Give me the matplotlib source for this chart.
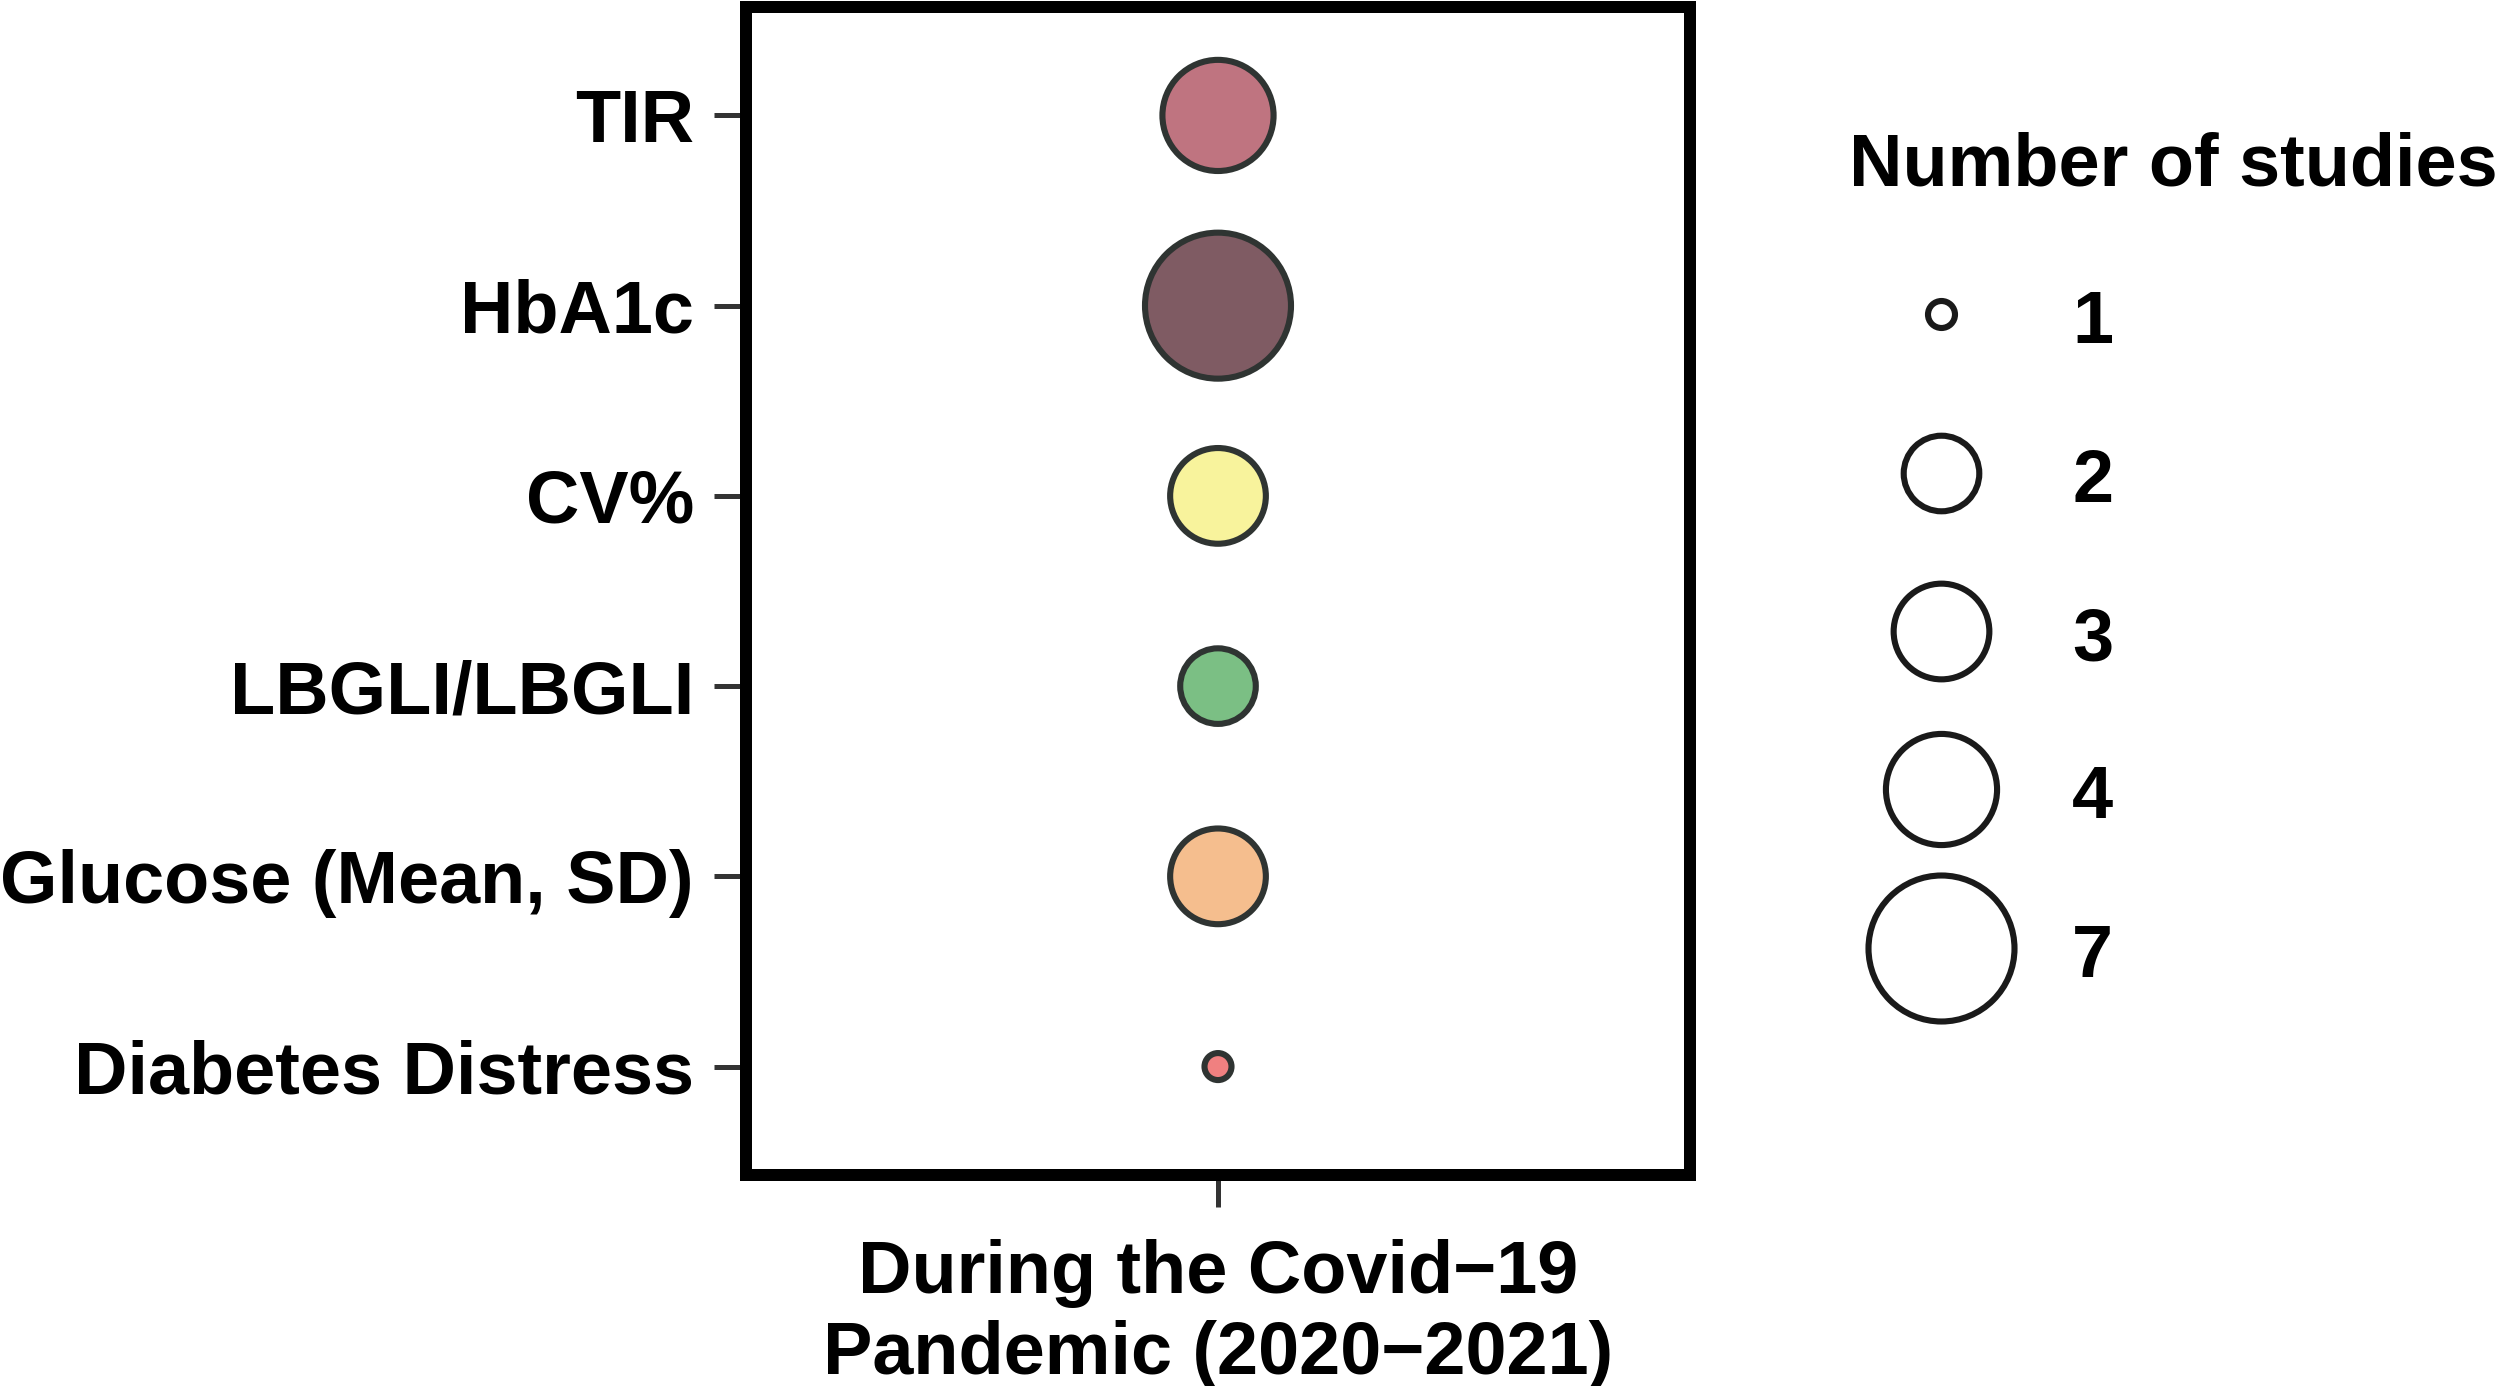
import matplotlib
matplotlib.use("Agg")
import matplotlib.pyplot as plt
from matplotlib.lines import Line2D
import numpy as np

# ---- data ----
outcomes = ["Diabetes Distress", "Glucose (Mean, SD)", "LBGLI/LBGLI", "CV%", "HbA1c", "TIR"]
n_studies = [1, 3, 2, 3, 7, 4]
fill_colors = ["#F08080", "#F5BE8E", "#7BBF84", "#F8F39C", "#7F5B63", "#BF7480"]
period = ["During the Covid\u221219\nPandemic (2020\u22122021)"]
legend_levels = [1, 2, 3, 4, 7]

# ---- style ----
DPI = 200
FS = 26.6
plt.rcParams["font.family"] = ["Liberation Sans", "DejaVu Sans"]
plt.rcParams["font.weight"] = "bold"
EDGE = "#2F3432"
EDGE_LW = 2.2

def px2pt(px):
    return px * 72.0 / DPI

D_MIN, D_MAX = px2pt(27), px2pt(146)
N_MIN, N_MAX = 1, 7

def diam(n):
    n = np.asarray(n, dtype=float)
    return D_MIN + (D_MAX - D_MIN) * np.sqrt((n - N_MIN) / (N_MAX - N_MIN))

fig = plt.figure(figsize=(2500 / DPI, 1386 / DPI), dpi=DPI)
ax = fig.add_axes([746 / 2500, 1 - 1175 / 1386, (1690 - 746) / 2500, (1175 - 7) / 1386])

ypos = np.arange(len(outcomes))
ax.scatter(np.zeros(len(outcomes)), ypos, s=diam(n_studies) ** 2, c=fill_colors,
           edgecolors=EDGE, linewidths=EDGE_LW, zorder=3)

ax.set_xlim(-0.6, 0.6)
ax.set_ylim(-0.57, len(outcomes) - 1 + 0.57)
ax.set_xticks([0])
ax.set_xticklabels(period, fontsize=FS, fontweight="bold", linespacing=1.22)
ax.set_yticks(ypos)
ax.set_yticklabels(outcomes, fontsize=FS, fontweight="bold")
for s in ax.spines.values():
    s.set_linewidth(px2pt(12))
    s.set_color("black")
ax.tick_params(axis="both", length=px2pt(32), width=px2pt(5), color="#333333")
ax.tick_params(axis="y", pad=px2pt(20))
ax.tick_params(axis="x", pad=px2pt(32))

handles = [Line2D([], [], linestyle="none", marker="o", markersize=float(diam(v)),
                  markerfacecolor="none", markeredgecolor="#1a1a1a", markeredgewidth=EDGE_LW)
           for v in legend_levels]
leg = fig.legend(handles, [str(v) for v in legend_levels], title="Number of studies",
                 loc="upper left", bbox_to_anchor=(1849 / 2500, 1 - 131 / 1386),
                 frameon=False, fontsize=FS, title_fontsize=FS, borderpad=0,
                 borderaxespad=0, handlelength=2.5, handleheight=1.0,
                 handletextpad=0.52, labelspacing=1.15, alignment="left")
leg.get_title().set_fontweight("bold")
for t in leg.get_texts():
    t.set_fontweight("bold")

fig.savefig("out.png", dpi=DPI, facecolor="white")
